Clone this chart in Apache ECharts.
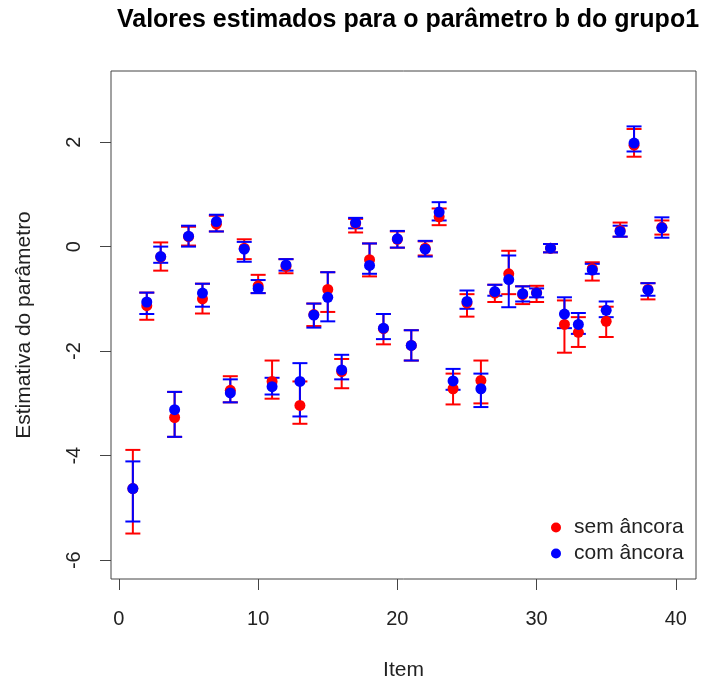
<!DOCTYPE html>
<html>
<head>
<meta charset="utf-8">
<script src="https://cdn.jsdelivr.net/npm/echarts@6/dist/echarts.min.js"></script>
<style>
html,body{margin:0;padding:0;background:#fff;}
#chart{width:707px;height:687px;}
</style>
</head>
<body>
<div id="chart"></div>
<script>
const items = [1,2,3,4,5,6,7,8,9,10,11,12,13,14,15,16,17,18,19,20,21,22,23,24,25,26,27,28,29,30,31,32,33,34,35,36,37,38,39];
const semEst  = [-4.63,-1.13,-0.20,-3.27,0.19,-1.00,0.43,-2.75,-0.03,-0.75,-2.58,-0.38,-3.04,-1.30,-0.82,-2.39,0.44,-0.25,-1.57,0.14,-1.89,-0.03,0.57,-2.72,-1.08,-2.56,-0.89,-0.52,-0.92,-0.88,-0.03,-1.49,-1.64,-0.42,-1.43,0.31,1.94,-0.82,0.37];
const semLow  = [-5.49,-1.40,-0.46,-3.64,0.02,-1.28,0.29,-2.98,-0.24,-0.89,-2.91,-0.51,-3.39,-1.52,-1.25,-2.71,0.27,-0.57,-1.87,-0.02,-2.18,-0.17,0.41,-3.02,-1.34,-3.00,-1.06,-0.91,-1.10,-1.06,-0.11,-2.03,-1.92,-0.65,-1.73,0.19,1.72,-1.01,0.23];
const semHigh = [-3.89,-0.88,0.08,-2.78,0.38,-0.71,0.59,-2.48,0.14,-0.54,-2.18,-0.24,-2.58,-1.09,-0.49,-2.15,0.53,0.06,-1.29,0.29,-1.60,0.10,0.73,-2.43,-0.91,-2.18,-0.73,-0.08,-0.76,-0.75,0.05,-1.03,-1.35,-0.30,-1.15,0.46,2.25,-0.70,0.50];
const comEst  = [-4.63,-1.06,-0.19,-3.12,0.20,-0.89,0.48,-2.80,-0.05,-0.80,-2.68,-0.35,-2.58,-1.31,-0.97,-2.36,0.46,-0.36,-1.56,0.15,-1.89,-0.05,0.66,-2.57,-1.05,-2.72,-0.86,-0.63,-0.90,-0.89,-0.03,-1.29,-1.49,-0.45,-1.22,0.29,1.98,-0.83,0.36];
const comLow  = [-5.26,-1.29,-0.31,-3.64,0.00,-1.15,0.29,-2.98,-0.29,-0.89,-2.83,-0.46,-3.25,-1.55,-1.43,-2.54,0.35,-0.52,-1.77,-0.02,-2.18,-0.19,0.50,-2.74,-1.19,-3.07,-0.94,-1.16,-1.05,-0.97,-0.11,-1.56,-1.67,-0.52,-1.35,0.19,1.82,-0.94,0.17];
const comHigh = [-4.11,-0.88,0.00,-2.78,0.40,-0.71,0.61,-2.54,0.09,-0.64,-2.51,-0.24,-2.23,-1.09,-0.49,-2.07,0.55,0.06,-1.29,0.30,-1.60,0.11,0.85,-2.34,-0.84,-2.43,-0.73,-0.17,-0.76,-0.80,0.05,-0.97,-1.27,-0.33,-1.05,0.40,2.30,-0.70,0.56];
const xTicks = [0,10,20,30,40];
const yTicks = [-6,-4,-2,0,2];
const seriesNames = ['sem âncora','com âncora'];
const titleText = 'Valores estimados para o parâmetro b do grupo1';
const xName = 'Item';
const yName = 'Estimativa do parâmetro';

const RED = '#ff0000', BLUE = '#0000ff';
const FONT = 'Liberation Sans, Arial, sans-serif';

function errRender(color){
  return function(params, api){
    const x = api.value(0), lo = api.value(1), hi = api.value(2);
    const p1 = api.coord([x, lo]), p2 = api.coord([x, hi]);
    const w = 7.5;
    const style = {stroke: color, lineWidth: 2};
    return {type:'group', children:[
      {type:'line', shape:{x1:p1[0], y1:p1[1], x2:p2[0], y2:p2[1]}, style: style},
      {type:'line', shape:{x1:p1[0]-w, y1:p1[1], x2:p1[0]+w, y2:p1[1]}, style: style},
      {type:'line', shape:{x1:p2[0]-w, y1:p2[1], x2:p2[0]+w, y2:p2[1]}, style: style}
    ]};
  };
}

const chart = echarts.init(document.getElementById('chart'), null, {renderer:'canvas'});
chart.setOption({
  animation:false,
  backgroundColor:'#fff',
  title:{
    text:titleText, left:403, textAlign:'center', top:3,
    textStyle:{fontFamily:FONT, fontSize:25, fontWeight:'bold', color:'#000'}
  },
  legend:{
    orient:'vertical', left:546, top:512, itemWidth:26, itemHeight:10, itemGap:5,
    selectedMode:false,
    textStyle:{fontFamily:FONT, fontSize:21, color:'#222'},
    data:[{name:seriesNames[0], icon:'circle'},{name:seriesNames[1], icon:'circle'}]
  },
  grid:{left:111, top:71, width:585, height:508, show:true, borderColor:'#444', borderWidth:1, backgroundColor:'transparent'},
  xAxis:{
    type:'value', min:-0.57, max:41.45,
    name:xName, nameLocation:'middle', nameGap:81,
    nameTextStyle:{fontFamily:FONT, fontSize:21, color:'#222'},
    axisLine:{show:false, onZero:false},
    axisTick:{show:true, length:11, lineStyle:{color:'#444'}, customValues:xTicks},
    axisLabel:{fontFamily:FONT, fontSize:20, color:'#222', margin:30, customValues:xTicks},
    splitLine:{show:false}
  },
  yAxis:{
    type:'value', min:-6.36, max:3.36,
    name:yName, nameLocation:'middle', nameGap:76, nameRotate:90,
    nameTextStyle:{fontFamily:FONT, fontSize:21, color:'#222'},
    axisLine:{show:false, onZero:false},
    axisTick:{show:true, length:11, lineStyle:{color:'#444'}, customValues:yTicks},
    axisLabel:{fontFamily:FONT, fontSize:20, color:'#222', margin:27, rotate:90, customValues:yTicks},
    splitLine:{show:false}
  },
  series:[
    {type:'custom', name:'semBars', renderItem:errRender(RED), encode:{x:0,y:[1,2]},
     data: items.map((x,i)=>[x, semLow[i], semHigh[i]])},
    {type:'scatter', name:seriesNames[0], symbol:'circle', symbolSize:11, itemStyle:{color:RED, opacity:1},
     data: items.map((x,i)=>[x, semEst[i]])},
    {type:'custom', name:'comBars', renderItem:errRender(BLUE), encode:{x:0,y:[1,2]},
     data: items.map((x,i)=>[x, comLow[i], comHigh[i]])},
    {type:'scatter', name:seriesNames[1], symbol:'circle', symbolSize:11, itemStyle:{color:BLUE, opacity:1},
     data: items.map((x,i)=>[x, comEst[i]])}
  ]
});
</script>
</body>
</html>
